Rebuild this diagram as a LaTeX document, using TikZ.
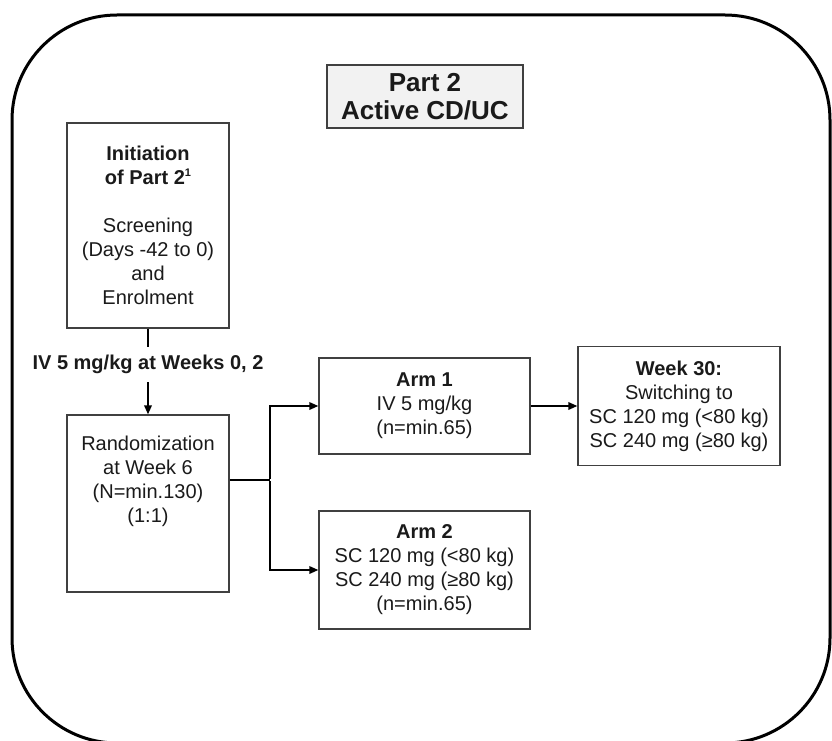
\documentclass[tikz,border=0pt]{standalone}
\usepackage{fontspec}
\setmainfont{Liberation Sans}
\usetikzlibrary{arrows.meta}
\definecolor{boxline}{HTML}{404040}
\definecolor{titlefill}{HTML}{F2F2F2}
\definecolor{txt}{HTML}{1A1A1A}
\begin{document}
\begin{tikzpicture}[x=1pt,y=-1pt,
  box/.style={draw=boxline, line width=1.3pt, fill=white, inner sep=0pt},
  body/.style={font=\fontsize{20}{24}\selectfont, align=center, text=txt, inner sep=0pt},
  conn/.style={line width=1.8pt, -{Triangle[length=9pt,width=7.5pt]}},
  plainline/.style={line width=1.8pt}]
\useasboundingbox (0,0) rectangle (832,741);
% outer frame
\draw[line width=3pt, rounded corners=105pt] (12,15) rectangle (830,743);
% title
\node[box, fill=titlefill, minimum width=196pt, minimum height=63pt,
      font=\fontsize{26}{28}\selectfont\bfseries, align=center, text=txt] (title) at (425,96.5) {Part 2\\Active CD/UC};
% initiation
\node[box, body, minimum width=162pt, minimum height=205pt] (init) at (148,225.5)
  {\textbf{Initiation}\\\textbf{of Part 2\raisebox{0.75ex}{\fontsize{11}{11}\selectfont 1}}\\[24pt]Screening\\(Days -42 to 0)\\and\\Enrolment};
% label
\node[body, font=\fontsize{20}{24}\selectfont\bfseries, minimum height=35pt] (ivlabel) at (148,364.5) {IV 5 mg/kg at Weeks 0, 2};
% randomization
\node[box, minimum width=162pt, minimum height=177pt] (rand) at (148,503.5) {};
\node[body, anchor=north] (randtext) at (148,436) {Randomization\\at Week 6\\(N=min.130)\\(1:1)};
% arms
\node[box, body, minimum width=211pt, minimum height=96pt] (arm1) at (424.5,406)
  {\textbf{Arm 1}\\IV 5 mg/kg\\(n=min.65)};
\node[box, body, minimum width=211pt, minimum height=118pt] (arm2) at (424.5,570)
  {\textbf{Arm 2}\\SC 120 mg (<80 kg)\\SC 240 mg (≥80 kg)\\(n=min.65)};
\node[box, body, minimum width=202pt, minimum height=119pt] (week30) at (679,406)
  {\textbf{Week 30:}\\Switching to\\SC 120 mg (<80 kg)\\SC 240 mg (≥80 kg)};
% connectors
\draw[plainline] (init) -- (ivlabel);
\draw[conn] (ivlabel) -- (rand);
\coordinate (rsplit) at (270,480);
\draw[plainline] (rand.east |- rsplit) -- (rsplit);
\draw[conn] ([yshift=0.9pt]rsplit) |- (arm1);
\draw[conn] ([yshift=-0.9pt]rsplit) |- (arm2);
\draw[conn] (arm1) -- (week30);
\end{tikzpicture}
\end{document}
